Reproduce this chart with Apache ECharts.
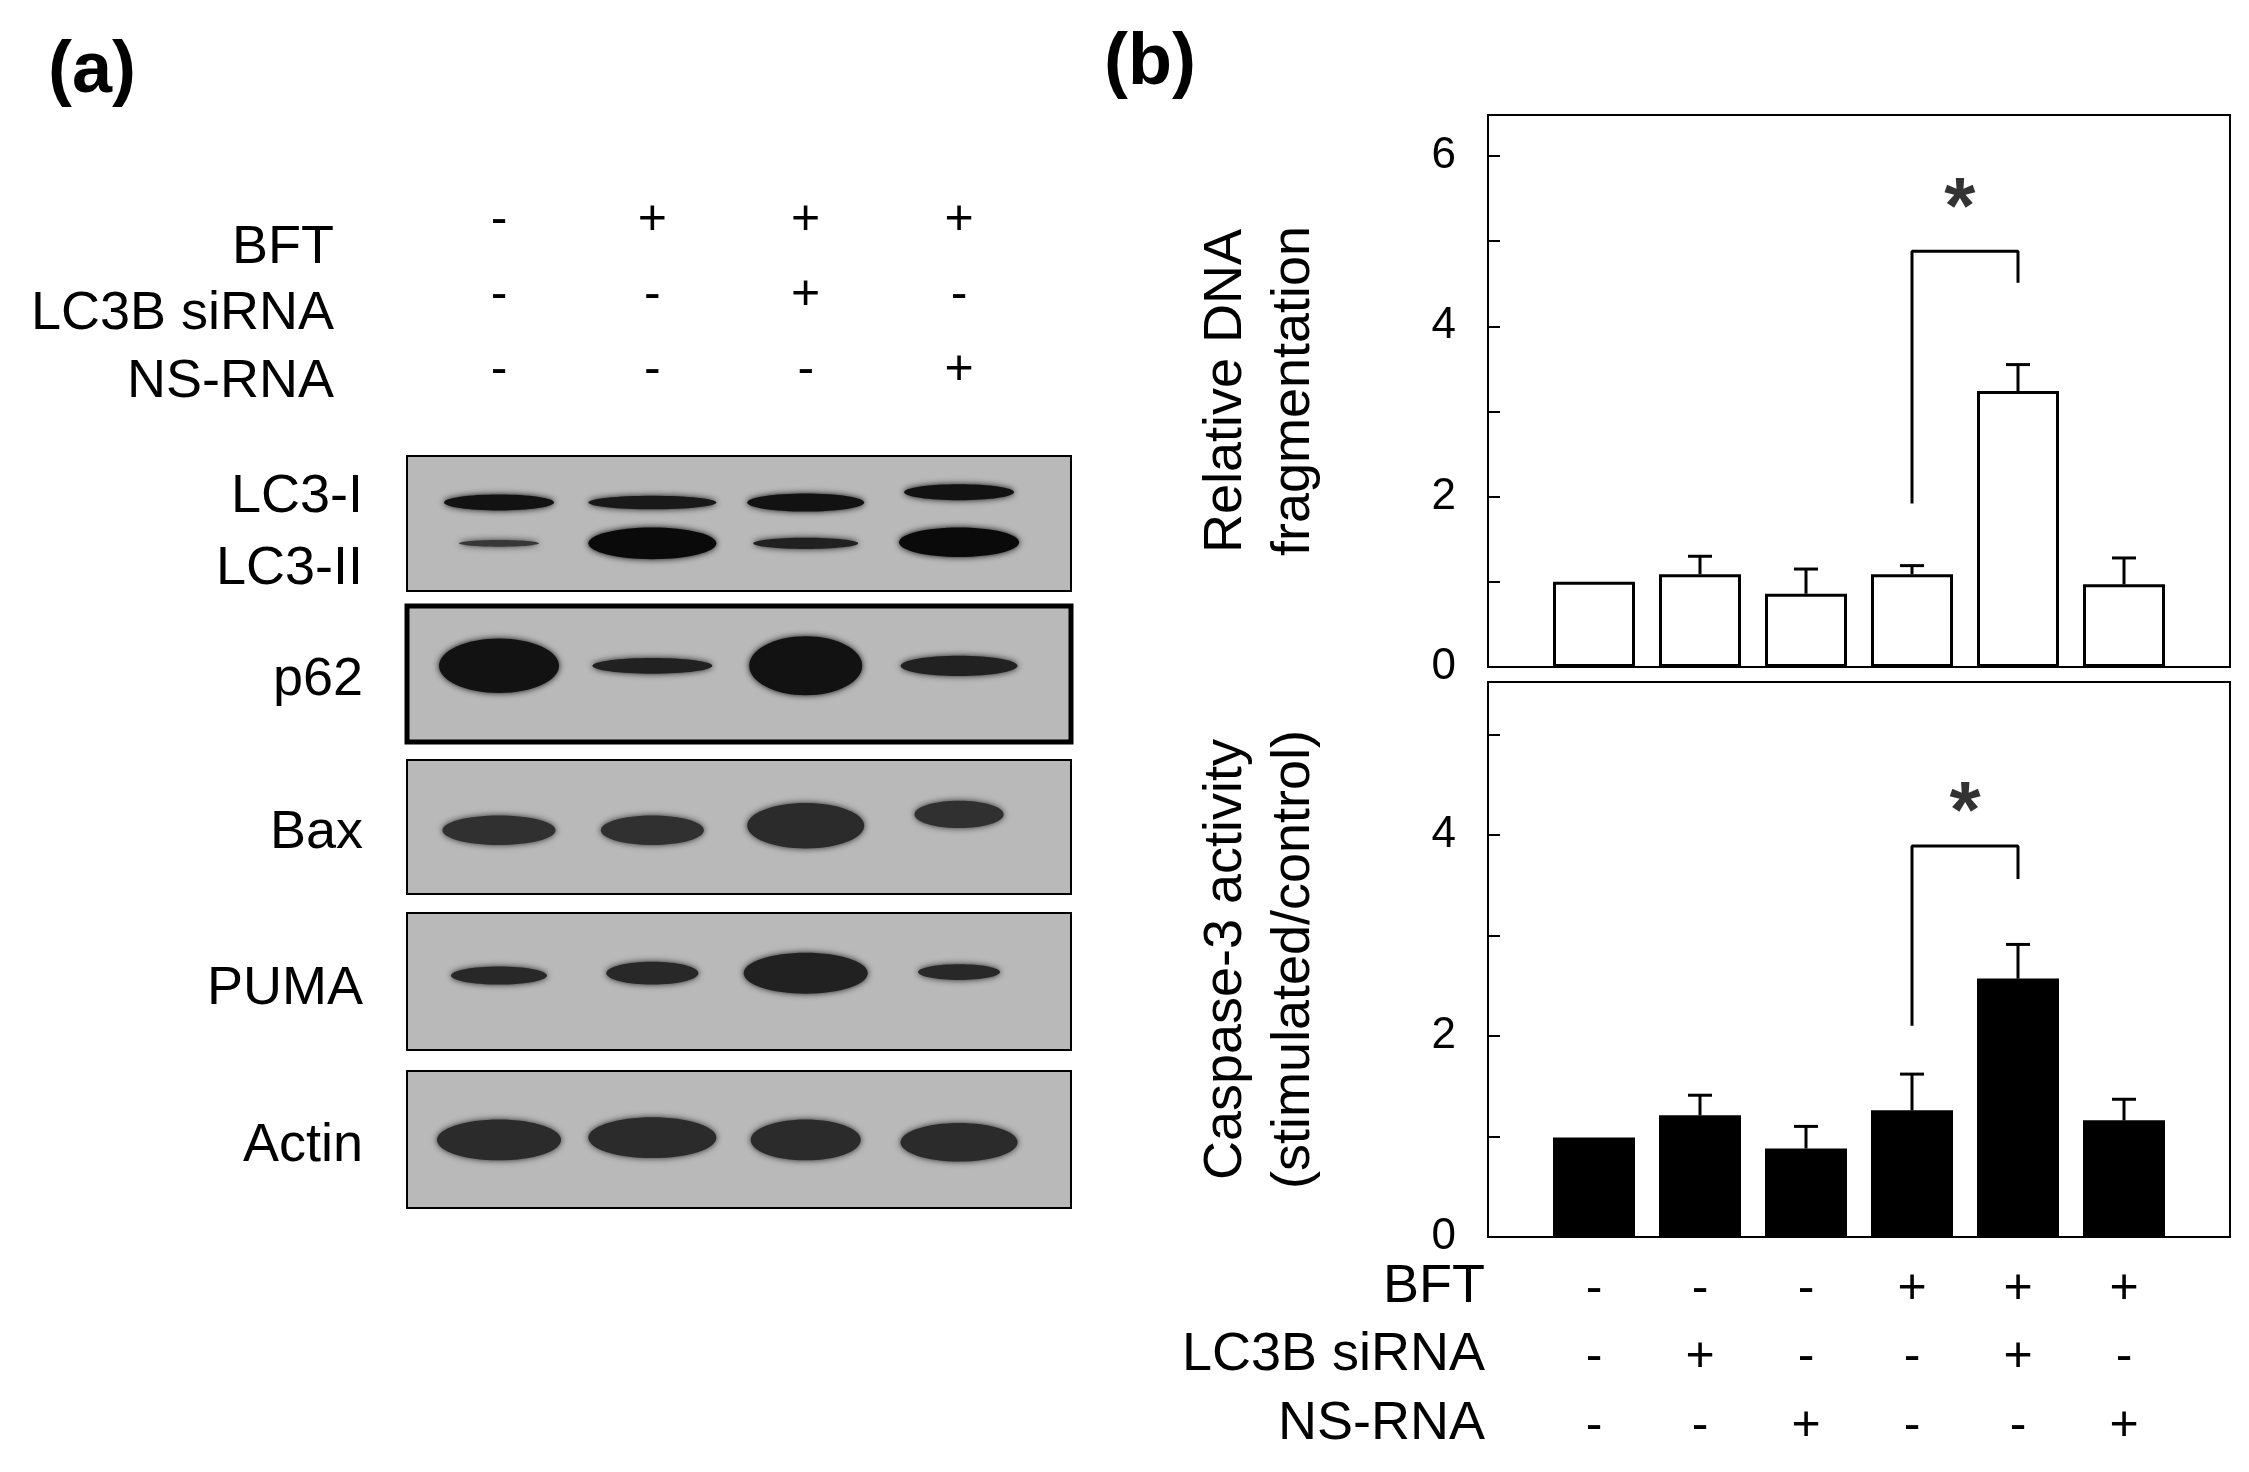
<!DOCTYPE html>
<html><head><meta charset="utf-8">
<script src="https://cdn.jsdelivr.net/npm/echarts@6/dist/echarts.min.js"></script>
<style>html,body{margin:0;background:#fff}#c{width:2249px;height:1472px}</style></head>
<body><div id="c"></div>
<script>
// ---- data ----
const groups = [1, 2, 3, 4, 5, 6];
const dnaMean = [1.0, 1.09, 0.86, 1.09, 3.24, 0.97];
const dnaErrTop = [1.0, 1.30, 1.15, 1.19, 3.55, 1.28];
const caspMean = [0.99, 1.21, 0.88, 1.26, 2.57, 1.16];
const caspErrTop = [0.99, 1.41, 1.10, 1.62, 2.91, 1.37];
const rowNames = ['BFT', 'LC3B siRNA', 'NS-RNA'];
const signsB = [['-','-','-','+','+','+'], ['-','+','-','-','+','-'], ['-','-','+','-','-','+']];
const signsA = [['-','+','+','+'], ['-','-','+','-'], ['-','-','-','+']];
const dnaBracket = [[4, 1.92], [4, 4.88], [5, 4.88], [5, 4.51]];
const caspBracket = [[4, 2.10], [4, 3.89], [5, 3.89], [5, 3.56]];
const dnaStar = [4.45, 5.35];
const caspStar = [4.5, 4.2];
const blotLabels = [['LC3-I', 497], ['LC3-II', 569], ['p62', 680], ['Bax', 833], ['PUMA', 989], ['Actin', 1146]];
// bands: [lane, yCenter (blot units), width px, height (blot units), darkness 0..1]
const bands = [
 [1,41,110,14,0.95],[2,41,128,12,0.9],[3,41,117,16,0.95],[4,32,110,14,0.95],
 [1,77,80,6,0.7],[2,77,128,28,1],[3,77,105,10,0.85],[4,76,120,26,1],
 [1,185,120,48,0.95],[2,185,120,14,0.85],[3,185,113,52,0.95],[4,185,117,18,0.85],
 [1,330,113,26,0.75],[2,330,103,26,0.75],[3,326,117,40,0.78],[4,316,89,24,0.75],
 [1,458,96,16,0.8],[2,456,92,20,0.8],[3,456,124,36,0.85],[4,455,82,14,0.8],
 [1,603,124,36,0.78],[2,601,128,36,0.78],[3,603,110,36,0.78],[4,605,117,34,0.78]
];
const blotBoxes = [[456,591,2],[606,742,5],[760,894,2],[913,1050,2],[1071,1208,2]];

const F = 'Liberation Sans, Arial, sans-serif';
const chart = echarts.init(document.getElementById('c'));

function errItem(params, api) {
  const x = api.value(0), m = api.value(1), t = api.value(2);
  if (t <= m) return null;
  const p0 = api.coord([x, m]), p1 = api.coord([x, t]);
  return {type:'group', children:[
    {type:'line', shape:{x1:p0[0],y1:p0[1],x2:p1[0],y2:p1[1]}, style:{stroke:'#000',lineWidth:3}},
    {type:'line', shape:{x1:p1[0]-12,y1:p1[1],x2:p1[0]+12,y2:p1[1]}, style:{stroke:'#000',lineWidth:3}}
  ]};
}
const yAx = (gi, name, max) => ({
  gridIndex: gi, type:'value', min:0, max:max, interval:1,
  name: name, nameLocation:'middle', nameRotate:90, nameGap:160,
  nameTextStyle:{fontFamily:F, fontSize:54, color:'#000', lineHeight:68},
  axisLine:{show:false}, splitLine:{show:false},
  axisTick:{inside:true, length:12, lineStyle:{color:'#000',width:2}},
  axisLabel:{fontFamily:F, fontSize:44, color:'#000', margin:32,
    formatter: v => (v % 2 === 0 && v <= 6) ? String(v) : ''}
});
const xAx = gi => ({gridIndex:gi, type:'value', min:0, max:7, show:false});

const graphics = [
  {type:'text', left:48, top:36, style:{text:'(a)', font:'bold 72px '+F, fill:'#000'}},
  {type:'text', left:1104, top:28, style:{text:'(b)', font:'bold 72px '+F, fill:'#000'}}
];
blotBoxes.forEach(b => graphics.push({type:'rect', z:0,
  shape:{x:407, y:b[0], width:664, height:b[1]-b[0]},
  style:{fill:'#b9b9b9', stroke:'#000', lineWidth:b[2]}}));
blotLabels.forEach(l => graphics.push({type:'text', z:5, x:363, y:l[1],
  style:{text:l[0], font:'54px '+F, fill:'#000', textAlign:'right', textVerticalAlign:'middle'}}));
[248,314,382].forEach((y,i) => graphics.push({type:'text', x:334, y:y,
  style:{text:rowNames[i], font:'54px '+F, fill:'#000', textAlign:'right', textVerticalAlign:'middle'}}));
[1287,1355,1424].forEach((y,i) => graphics.push({type:'text', x:1485, y:y,
  style:{text:rowNames[i], font:'54px '+F, fill:'#000', textAlign:'right', textVerticalAlign:'middle'}}));

const signsAData = [];
signsA.forEach((row, r) => row.forEach((s, j) => signsAData.push([j+1, [-208,-142,-76][r], s])));
const signsBData = [];
signsB.forEach((row, r) => row.forEach((s, j) => signsBData.push([j+1, r, s])));

chart.setOption({
  animation:false,
  graphic: graphics,
  grid:[
    {left:1488, top:115, width:742, height:552, show:true, borderColor:'#000', borderWidth:2, backgroundColor:'transparent'},
    {left:1488, top:682, width:742, height:555, show:true, borderColor:'#000', borderWidth:2, backgroundColor:'transparent'},
    {left:407, top:456, width:664, height:752, show:false}
  ],
  xAxis:[xAx(0), xAx(1), {gridIndex:2, type:'value', min:0.4, max:4.73, show:false}],
  yAxis:[yAx(0,'Relative DNA\nfragmentation',6.48), yAx(1,'Caspase-3 activity\n(stimulated/control)',5.52),
    {gridIndex:2, type:'value', min:0, max:663, inverse:true, show:false}],
  series:[
    {type:'bar', xAxisIndex:0, yAxisIndex:0, barWidth:82, data: groups.map((g,i)=>[g,dnaMean[i]]),
     itemStyle:{color:'#fff', borderColor:'#000', borderWidth:3}},
    {type:'custom', xAxisIndex:0, yAxisIndex:0, renderItem:errItem, data: groups.map((g,i)=>[g,dnaMean[i],dnaErrTop[i]]), z:3},
    {type:'line', xAxisIndex:0, yAxisIndex:0, data:dnaBracket, symbol:'none', lineStyle:{color:'#000',width:3}},
    {type:'scatter', xAxisIndex:0, yAxisIndex:0, data:[dnaStar], symbolSize:0,
     label:{show:true, formatter:'*', fontFamily:F, fontSize:80, fontWeight:'bold', color:'#000', position:'inside'}},
    {type:'bar', xAxisIndex:1, yAxisIndex:1, barWidth:82, data: groups.map((g,i)=>[g,caspMean[i]]),
     itemStyle:{color:'#000', borderColor:'#000', borderWidth:2}},
    {type:'custom', xAxisIndex:1, yAxisIndex:1, renderItem:errItem, data: groups.map((g,i)=>[g,caspMean[i],caspErrTop[i]]), z:3},
    {type:'line', xAxisIndex:1, yAxisIndex:1, data:caspBracket, symbol:'none', lineStyle:{color:'#000',width:3}},
    {type:'scatter', xAxisIndex:1, yAxisIndex:1, data:[caspStar], symbolSize:0,
     label:{show:true, formatter:'*', fontFamily:F, fontSize:80, fontWeight:'bold', color:'#000', position:'inside'}},
    {type:'custom', xAxisIndex:1, yAxisIndex:1, clip:false, data:signsBData,
     encode:{x:0, y:1},
     renderItem:(p, api) => {
       const d = signsBData[p.dataIndex];
       const c = api.coord([d[0], 0]);
       return {type:'text', x:c[0], y:c[1]+[52,120,189][d[1]],
         style:{text:d[2], font:'50px '+F, fill:'#000', textAlign:'center', textVerticalAlign:'middle'}};
     }},
    {type:'custom', xAxisIndex:2, yAxisIndex:2, clip:false, data:signsAData, encode:{x:0,y:1},
     renderItem:(p, api) => {
       const d = signsAData[p.dataIndex];
       const c = api.coord([d[0], d[1]]);
       return {type:'text', x:c[0], y:c[1],
         style:{text:d[2], font:'50px '+F, fill:'#000', textAlign:'center', textVerticalAlign:'middle'}};
     }},
    {type:'custom', xAxisIndex:2, yAxisIndex:2, clip:false, z:3, data:bands, encode:{x:0,y:1},
     renderItem:(p, api) => {
       const c = api.coord([api.value(0), api.value(1)]);
       const w = api.value(2), h = api.size([0, api.value(3)])[1], k = api.value(4);
       const g = Math.round(160 - 150*k);
       const col = 'rgb('+g+','+g+','+g+')';
       return {type:'ellipse', shape:{cx:c[0], cy:c[1], rx:w/2, ry:h/2},
         style:{fill:col, shadowBlur:6, shadowColor:col}};
     }}
  ]
});
</script></body></html>
